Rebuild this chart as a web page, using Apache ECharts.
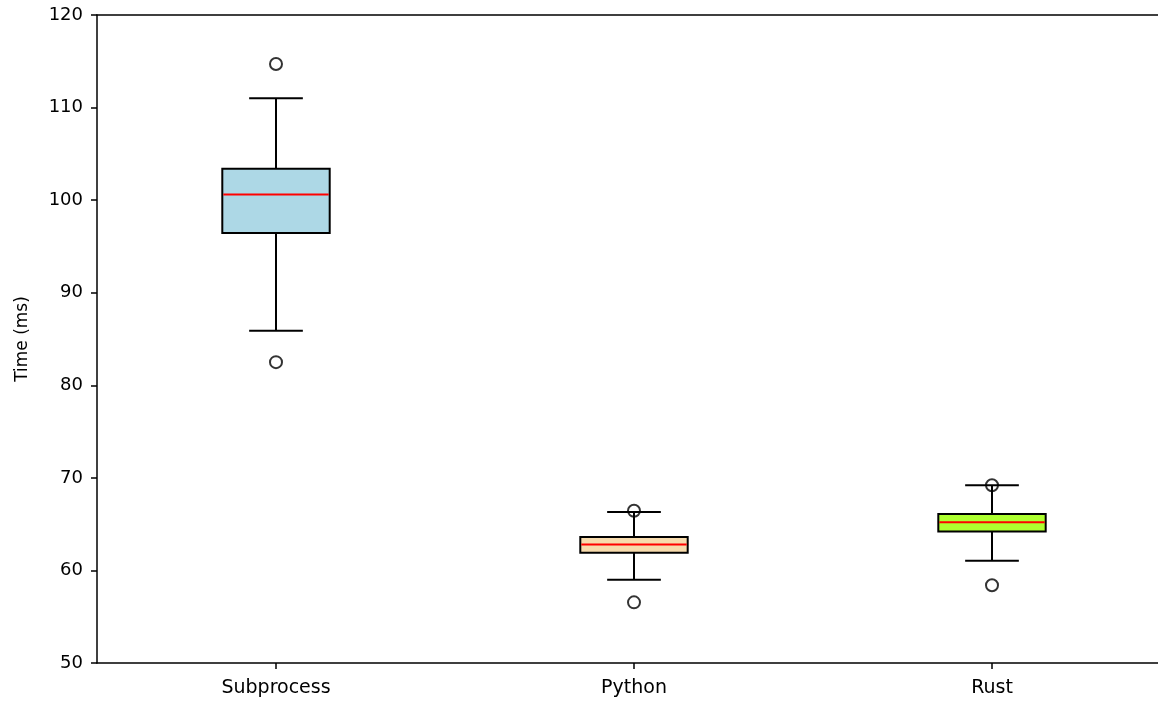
<!DOCTYPE html>
<html>
<head>
<meta charset="utf-8">
<script src="https://cdn.jsdelivr.net/npm/echarts@6/dist/echarts.min.js"></script>
<style>
  html, body { margin: 0; padding: 0; background: #fff; overflow: hidden; }
  #chart { width: 1172px; height: 701px; }
</style>
</head>
<body>
<div id="chart"></div>
<script>
// data
const categories = ["Subprocess", "Python", "Rust"];
const whiskerLow = [85.9, 59.0, 61.05];
const q1 = [96.45, 61.9, 64.2];
const median = [100.6, 62.8, 65.2];
const q3 = [103.4, 63.6, 66.1];
const whiskerHigh = [111.0, 66.3, 69.2];
const outliers = [[0, 114.7], [0, 82.5], [1, 66.45], [1, 56.55], [2, 69.2], [2, 58.4]];
const boxColors = ["#ADD8E6", "#F7DBAD", "#ADFF2F"];
const yTicks = [50, 60, 70, 80, 90, 100, 110, 120];

const boxData = categories.map((c, i) => [i, whiskerLow[i], q1[i], median[i], q3[i], whiskerHigh[i]]);

function renderBox(params, api) {
  const i = api.value(0);
  const band = api.size([1, 0])[0];
  const boxW = band * 0.3;
  const capW = boxW / 2;
  const lo = api.coord([i, api.value(1)]);
  const b1 = api.coord([i, api.value(2)]);
  const md = api.coord([i, api.value(3)]);
  const b3 = api.coord([i, api.value(4)]);
  const hi = api.coord([i, api.value(5)]);
  const cx = Math.round(lo[0]);
  const line = { stroke: "#000", lineWidth: 2 };
  return {
    type: "group",
    children: [
      { type: "line", shape: { x1: cx, y1: lo[1], x2: cx, y2: b1[1] }, style: line },
      { type: "line", shape: { x1: cx, y1: b3[1], x2: cx, y2: hi[1] }, style: line },
      { type: "line", shape: { x1: cx - capW / 2, y1: lo[1], x2: cx + capW / 2, y2: lo[1] }, style: line },
      { type: "line", shape: { x1: cx - capW / 2, y1: hi[1], x2: cx + capW / 2, y2: hi[1] }, style: line },
      {
        type: "rect",
        shape: { x: cx - boxW / 2, y: b3[1], width: boxW, height: b1[1] - b3[1] },
        style: { fill: boxColors[i], stroke: "#000", lineWidth: 2 }
      },
      { type: "line", shape: { x1: cx - boxW / 2 + 1, y1: md[1], x2: cx + boxW / 2 - 1, y2: md[1] }, style: { stroke: "#f00", lineWidth: 2 } }
    ]
  };
}

const chart = echarts.init(document.getElementById("chart"), null, { renderer: "canvas" });
chart.setOption({
  animation: false,
  backgroundColor: "#fff",
  textStyle: { fontFamily: "DejaVu Sans" },
  grid: {
    left: 97,
    top: 15,
    right: 1,
    bottom: 38
  },
  xAxis: [
    {
      type: "category",
      data: categories,
      boundaryGap: true,
      axisLine: { show: true, lineStyle: { color: "#000", width: 1.5 } },
      axisTick: { show: true, alignWithLabel: true, length: 6, lineStyle: { color: "#000", width: 1.5 } },
      axisLabel: { color: "#000", fontSize: 19, margin: 16, fontFamily: "DejaVu Sans" },
      splitLine: { show: false }
    },
    {
      // top spine only
      type: "category",
      position: "top",
      data: categories,
      boundaryGap: true,
      axisLine: { show: true, lineStyle: { color: "#000", width: 1.5 } },
      axisTick: { show: false },
      axisLabel: { show: false },
      splitLine: { show: false }
    }
  ],
  yAxis: {
    type: "value",
    min: 50,
    max: 120,
    interval: 10,
    name: "Time (ms)",
    nameLocation: "middle",
    nameGap: 66,
    nameTextStyle: { color: "#000", fontSize: 17, fontFamily: "DejaVu Sans" },
    axisLine: { show: true, lineStyle: { color: "#000", width: 1.5 } },
    axisTick: { show: true, length: 6, lineStyle: { color: "#000", width: 1.5 } },
    axisLabel: {
      color: "#000",
      fontSize: 18,
      margin: 14,
      fontFamily: "DejaVu Sans",
      formatter: (v) => (yTicks.indexOf(v) >= 0 ? String(v) : "")
    },
    splitLine: { show: false }
  },
  series: [
    {
      type: "custom",
      renderItem: renderBox,
      encode: { x: 0, y: [1, 2, 3, 4, 5] },
      data: boxData,
      z: 2
    },
    {
      type: "scatter",
      symbol: "circle",
      symbolSize: 12,
      itemStyle: { color: "rgba(0,0,0,0)", borderColor: "#000", borderWidth: 2 },
      data: outliers,
      z: 3
    }
  ]
});
</script>
</body>
</html>
